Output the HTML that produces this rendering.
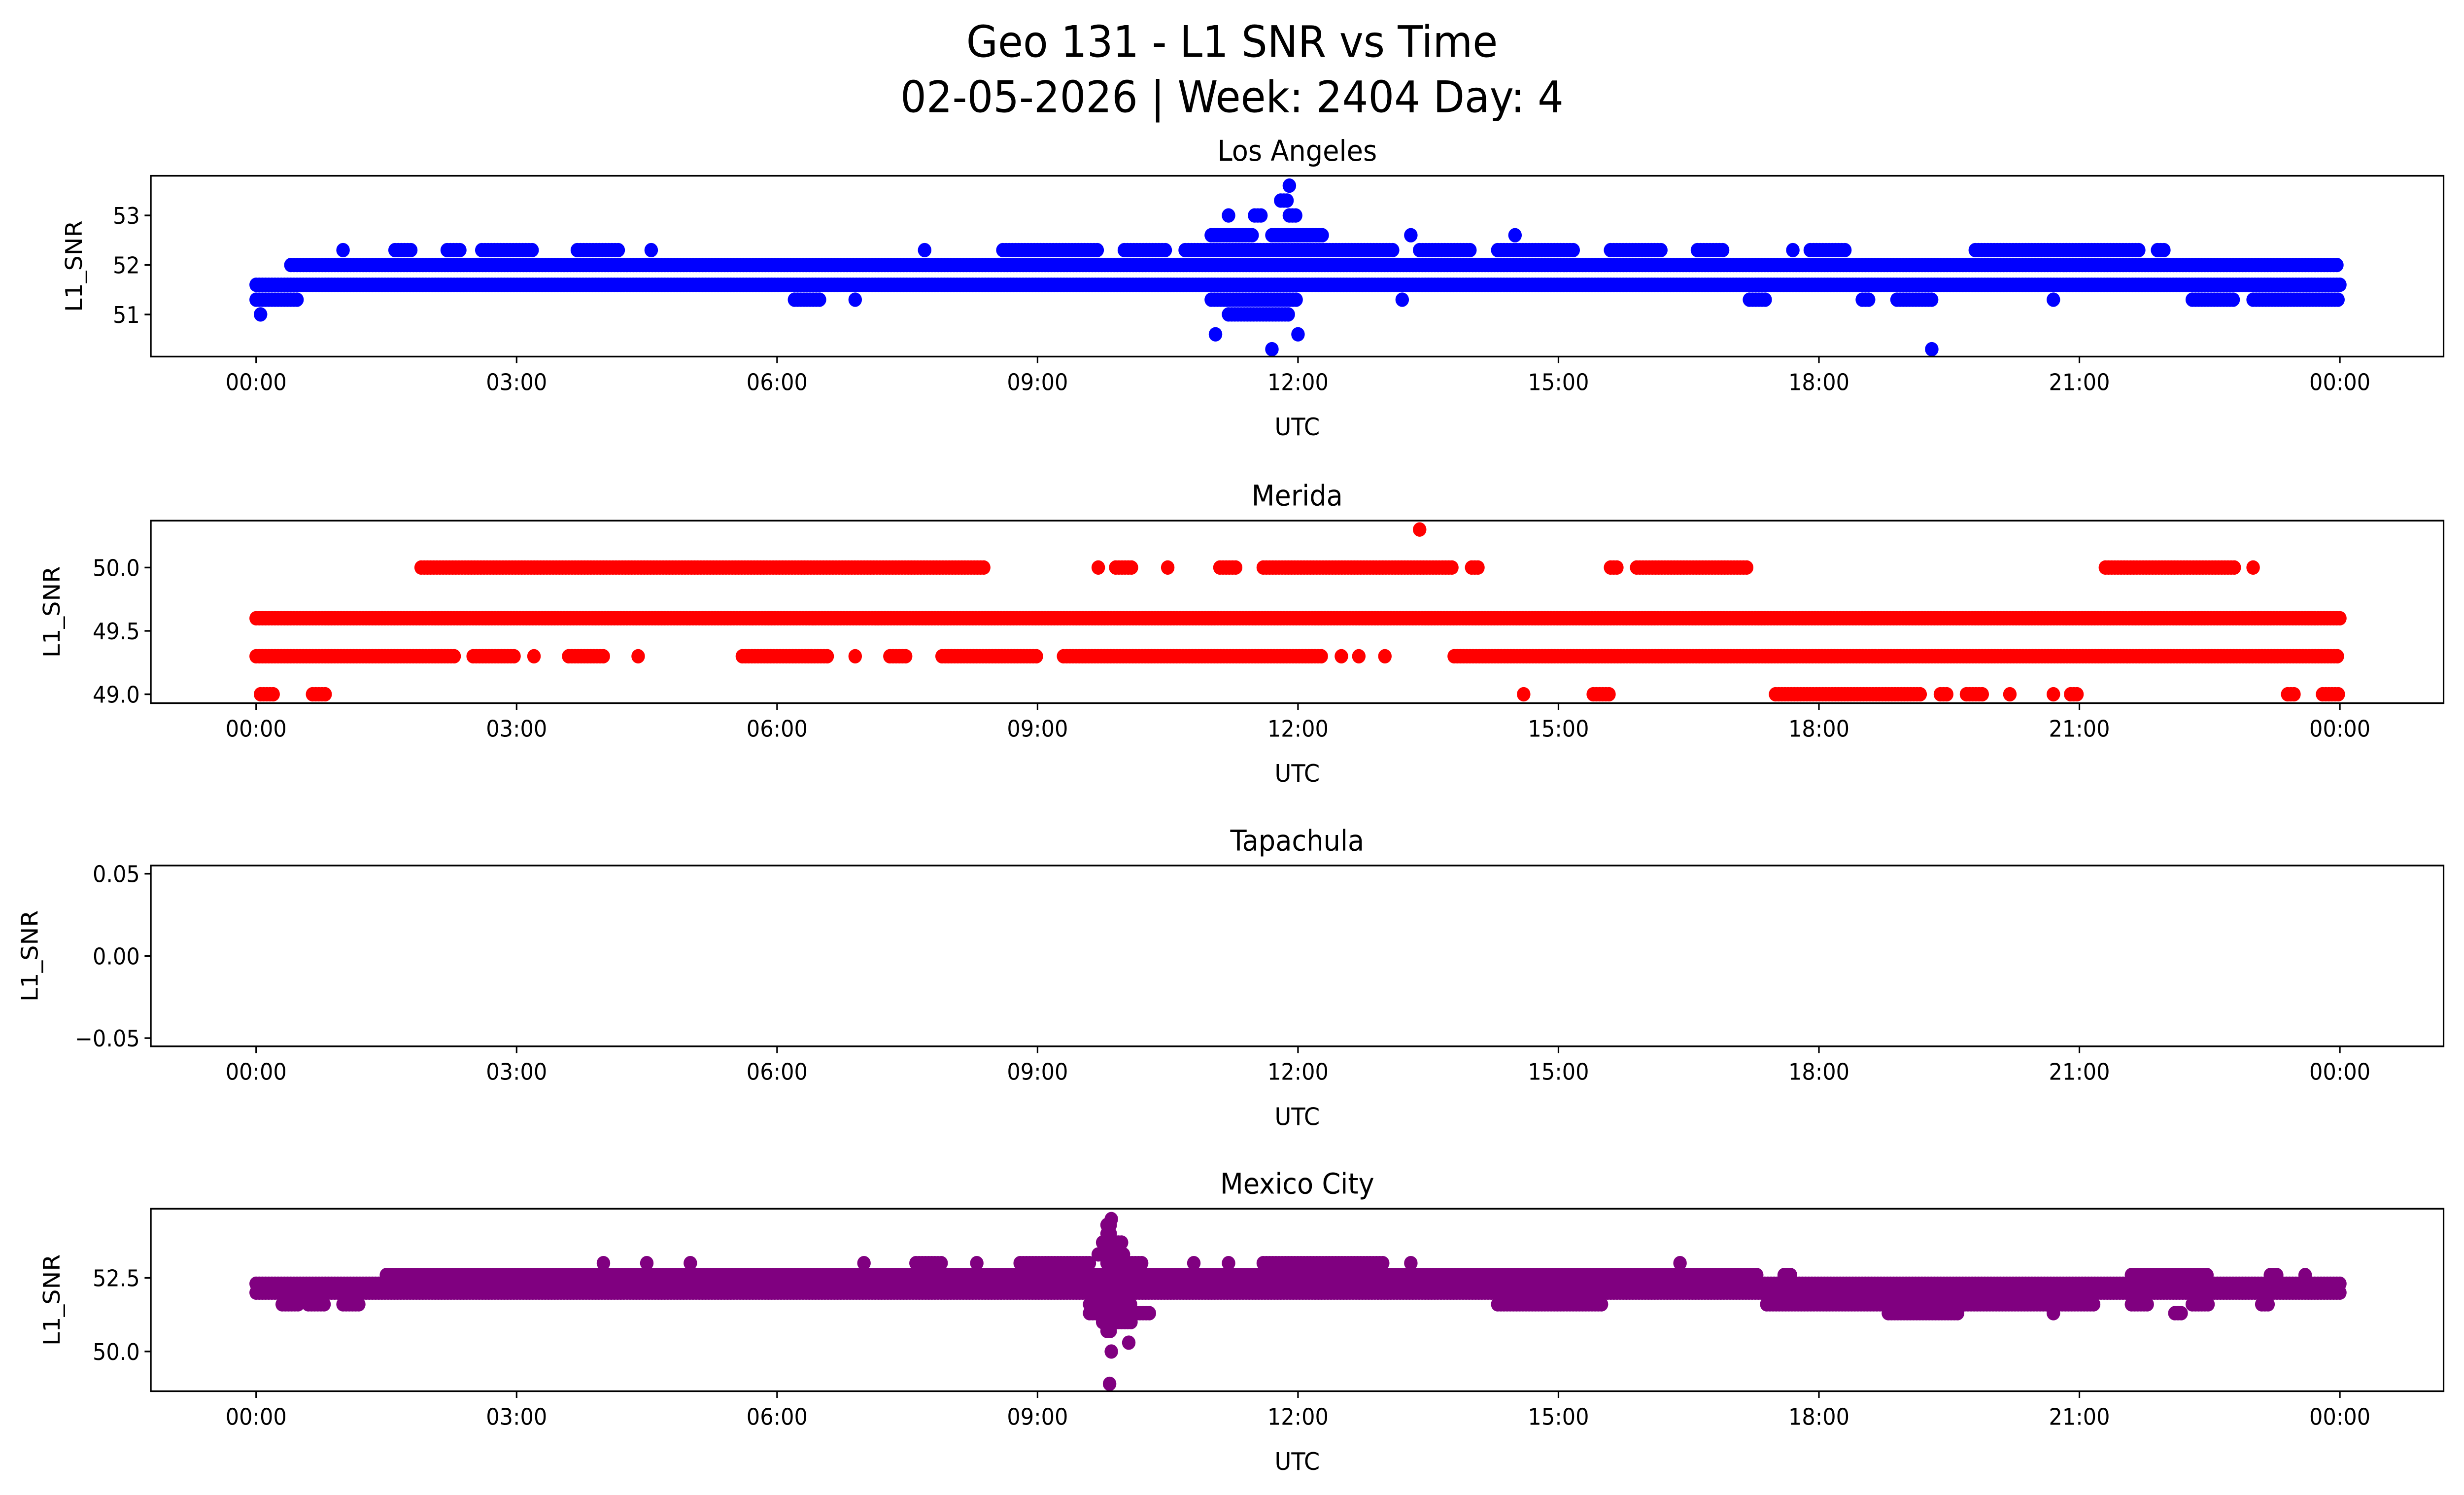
<!DOCTYPE html>
<html><head><meta charset="utf-8">
<style>
html,body{margin:0;padding:0;background:#fff;overflow:hidden;width:100%;height:100%;}
svg{position:fixed;left:0;top:0;width:100%;height:100%;display:block;font-family:"DejaVu Sans","Liberation Sans",sans-serif;}
</style></head>
<body>
<svg id="fig" viewBox="0 0 1568 893" preserveAspectRatio="none" xmlns="http://www.w3.org/2000/svg">
<rect width="1568" height="893" fill="#fff"/>
<text x="784" y="34" font-size="26" text-anchor="middle">Geo 131 - L1 SNR vs Time</text>
<text x="784" y="67" font-size="26" text-anchor="middle">02-05-2026 | Week: 2404 Day: 4</text>
<g id="plots"></g>
</svg>
<script>
// x ticks (hours)
const xTickHours = [0,3,6,9,12,15,18,21,24];
const xTickLabels = ["00:00","03:00","06:00","09:00","12:00","15:00","18:00","21:00","00:00"];
const stations = ["Los Angeles","Merida","Tapachula","Mexico City"];
// runs: [snr, startHour, endHour]
const laRuns = [
 [51.6,0,24],[52.0,0.4,24],
 [51.3,0,0.5],[51.3,6.2,6.5],[51.3,6.9,6.9],[51.3,11.0,12.0],[51.3,13.2,13.2],[51.3,17.2,17.4],[51.3,18.5,18.6],[51.3,18.9,19.3],[51.3,20.7,20.7],[51.3,22.3,22.8],[51.3,23.0,24],
 [51.0,0.05,0.05],[51.0,11.2,11.9],
 [52.3,1.0,1.0],[52.3,1.6,1.8],[52.3,2.2,2.35],[52.3,2.6,3.2],[52.3,3.7,4.2],[52.3,4.55,4.55],[52.3,7.7,7.7],[52.3,8.6,9.7],[52.3,10.0,10.5],[52.3,10.7,13.1],[52.3,13.4,14.0],[52.3,14.3,15.2],[52.3,15.6,16.2],[52.3,16.6,16.9],[52.3,17.7,17.7],[52.3,17.9,18.3],[52.3,19.8,21.7],[52.3,21.9,22.0],
 [52.6,11.0,11.5],[52.6,11.7,12.3],[52.6,13.3,13.3],[52.6,14.5,14.5],
 [53.0,11.2,11.2],[53.0,11.5,11.6],[53.0,11.9,12.0],
 [53.3,11.8,11.9],[53.6,11.9,11.9],
 [50.6,11.05,11.05],[50.6,12.0,12.0],[50.3,11.7,11.7],[50.3,19.3,19.3]
];
const meridaRuns = [
 [49.6,0,24],
 [49.3,0,2.3],[49.3,2.5,3.0],[49.3,3.2,3.2],[49.3,3.6,4.0],[49.3,4.4,4.4],[49.3,5.6,6.6],[49.3,6.9,6.9],[49.3,7.3,7.5],[49.3,7.9,9.0],[49.3,9.3,12.3],[49.3,12.5,12.5],[49.3,12.7,12.7],[49.3,13.0,13.0],[49.3,13.8,24],
 [50.0,1.9,8.4],[50.0,9.7,9.7],[50.0,9.9,10.1],[50.0,10.5,10.5],[50.0,11.1,11.3],[50.0,11.6,13.8],[50.0,14.0,14.1],[50.0,15.6,15.7],[50.0,15.9,17.2],[50.0,21.3,22.8],[50.0,23.0,23.0],
 [49.0,0.05,0.2],[49.0,0.65,0.8],[49.0,14.6,14.6],[49.0,15.4,15.6],[49.0,17.5,19.2],[49.0,19.4,19.5],[49.0,19.7,19.9],[49.0,20.2,20.2],[49.0,20.7,20.7],[49.0,20.9,21.0],[49.0,23.4,23.5],[49.0,23.8,24],
 [50.3,13.4,13.4]
];
const tapachulaRuns = [];
const mexRuns = [
 [52.0,0,24],[52.3,0,24],
 [52.6,1.5,17.3],[52.6,17.6,17.7],[52.6,21.6,22.5],[52.6,23.2,23.3],[52.6,23.6,23.6],
 [51.6,0.3,0.5],[51.6,0.6,0.8],[51.6,1.0,1.2],[51.6,9.6,10.1],[51.6,14.3,15.5],[51.6,17.4,21.2],[51.6,21.6,21.8],[51.6,22.3,22.5],[51.6,23.1,23.2],
 [53.0,4.0,4.0],[53.0,4.5,4.5],[53.0,5.0,5.0],[53.0,7.0,7.0],[53.0,7.6,7.9],[53.0,8.3,8.3],[53.0,8.8,9.6],[53.0,9.8,10.2],[53.0,10.8,10.8],[53.0,11.2,11.2],[53.0,11.6,13.0],[53.0,13.3,13.3],[53.0,16.4,16.4],
 [51.3,9.6,10.3],[51.3,18.8,19.6],[51.3,20.7,20.7],[51.3,22.1,22.2],
 [53.3,9.7,10.0],[53.7,9.75,10.0],[54.0,9.8,9.85],[54.3,9.8,9.85],[54.5,9.85,9.85],
 [51.0,9.75,10.1],[50.7,9.8,9.85],[50.3,10.05,10.05],[50.0,9.85,9.85],[48.9,9.83,9.83]
];
const yTicksLA = [51,52,53], yTickLabelsLA = ["51","52","53"];
const yTicksMe = [49,49.5,50], yTickLabelsMe = ["49.0","49.5","50.0"];
const yTicksTa = [-0.05,0,0.05], yTickLabelsTa = ["\u22120.05","0.00","0.05"];
const yTicksMx = [50,52.5], yTickLabelsMx = ["50.0","52.5"];

const NS="http://www.w3.org/2000/svg";
const root=document.getElementById('plots');
function mk(tag,attrs,parent){const e=document.createElementNS(NS,tag);for(const k in attrs)e.setAttribute(k,attrs[k]);parent.appendChild(e);return e;}
const X0=96,X1=1555;
function xScale(h){return 163+h*(1489-163)/24;}
const panels=[
 {runs:laRuns,color:"#0000ff",top:105,bot:213,ymin:50.15,ymax:53.8,ticks:yTicksLA,labels:yTickLabelsLA,ylx:52,key:"los-angeles"},
 {runs:meridaRuns,color:"#ff0000",top:311,bot:420,ymin:48.93,ymax:50.37,ticks:yTicksMe,labels:yTickLabelsMe,ylx:38,key:"merida"},
 {runs:tapachulaRuns,color:"#008000",top:517,bot:625,ymin:-0.055,ymax:0.055,ticks:yTicksTa,labels:yTickLabelsTa,ylx:24,key:"tapachula"},
 {runs:mexRuns,color:"#800080",top:722,bot:831,ymin:48.65,ymax:54.85,ticks:yTicksMx,labels:yTickLabelsMx,ylx:38,key:"mexico-city"}
];
panels.forEach((p,i)=>{
 const g=mk('g',{},root);
 
 
 const ys=v=>p.bot-(v-p.ymin)/(p.ymax-p.ymin)*(p.bot-p.top);
 const t=mk('text',{x:(X0+X1)/2,y:p.top-9,'font-size':17,'text-anchor':'middle'},g);t.textContent=stations[i];
 
 
 const pts=mk('g',{fill:p.color},g);
 
 
 p.runs.forEach(r=>{
  const y=ys(r[0]);
  const x0=xScale(r[1]),x1=xScale(r[2]);
  for(let x=x0;x<=x1+0.01;x+=2){mk('circle',{cx:x.toFixed(1),cy:y.toFixed(1),r:4.3},pts);}
 });
 const ax=mk('rect',{x:X0,y:p.top,width:X1-X0,height:p.bot-p.top,fill:'none',stroke:'#000','stroke-width':1},g);
 
 
 xTickHours.forEach((h,k)=>{
  const x=xScale(h);
  mk('line',{x1:x,x2:x,y1:p.bot,y2:p.bot+4,stroke:'#000','stroke-width':1},g);
  const tl=mk('text',{x:x,y:p.bot+20,'font-size':13.5,'text-anchor':'middle'},g);tl.textContent=xTickLabels[k];
  
  
 });
 p.ticks.forEach((v,k)=>{
  const y=ys(v);
  mk('line',{x1:X0-4,x2:X0,y1:y,y2:y,stroke:'#000','stroke-width':1},g);
  const tl=mk('text',{x:X0-7,y:y+5,'font-size':13.5,'text-anchor':'end'},g);tl.textContent=p.labels[k];
  
  
 });
 const xl=mk('text',{x:(X0+X1)/2,y:p.bot+47,'font-size':14.5,'text-anchor':'middle'},g);xl.textContent="UTC";
 
 
 const cy=(p.top+p.bot)/2;
 const yl=mk('text',{x:p.ylx,y:cy,'font-size':14.5,'text-anchor':'middle',transform:`rotate(-90 ${p.ylx} ${cy})`},g);yl.textContent="L1_SNR";
 
 
});
</script>
</body></html>
